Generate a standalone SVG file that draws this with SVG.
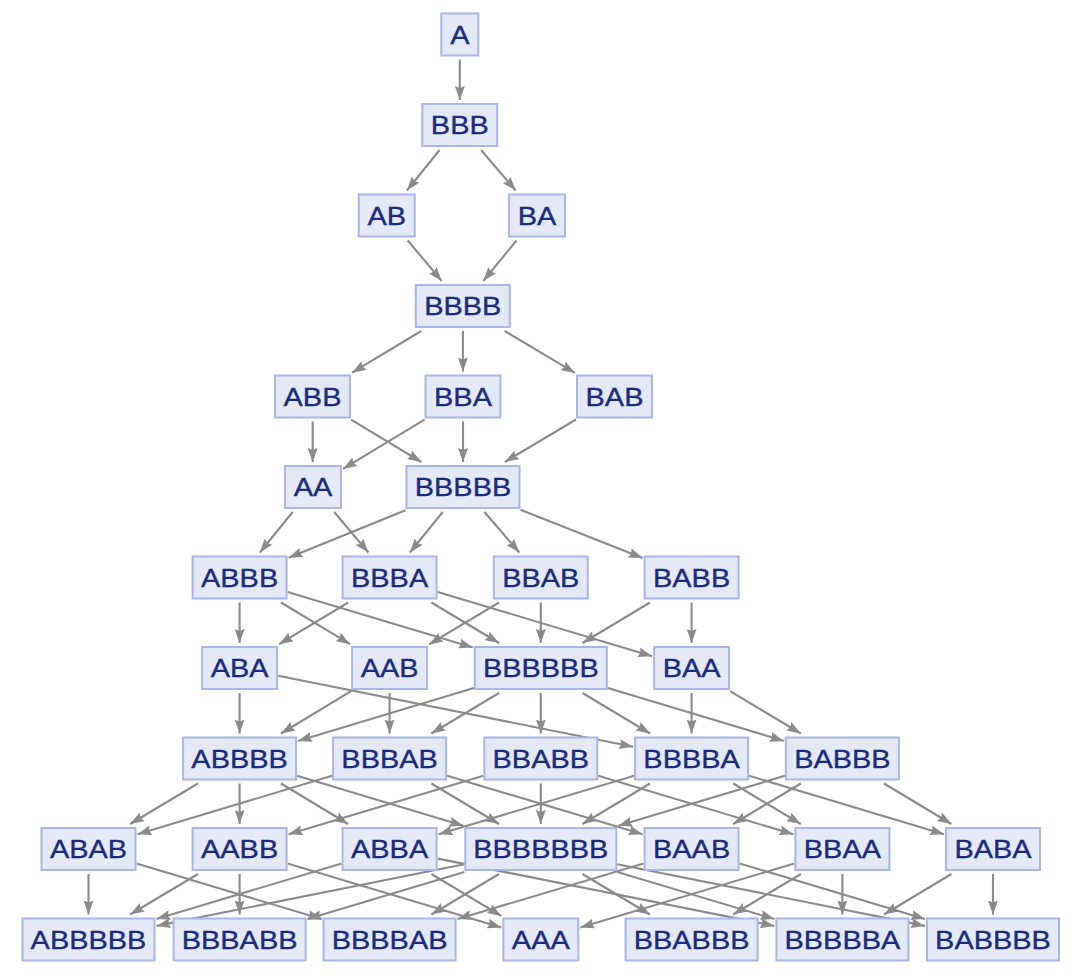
<svg xmlns="http://www.w3.org/2000/svg" width="1080" height="974" viewBox="0 0 1080 974">
<style>
.e{stroke:#8a8a8a;stroke-width:2.1;fill:none;marker-end:url(#ah)}
.n rect{fill:#e4e9f5;stroke:#a9b6e6;stroke-width:2}
.n text{font-family:"Liberation Sans",Arial,sans-serif;font-size:26px;fill:#1b2c7c;stroke:#1b2c7c;stroke-width:0.35;text-anchor:middle}
</style>
<defs>
<marker id="ah" markerUnits="userSpaceOnUse" markerWidth="14" markerHeight="10" refX="14" refY="5" orient="auto">
<path d="M0,0 L14,5 L0,10 L2,5 z" fill="#8a8a8a"/>
</marker>
</defs>
<rect width="1080" height="974" fill="#ffffff"/>
<g id="connectors">
<line class="e" x1="459.8" y1="59.5" x2="459.8" y2="100"/>
<line class="e" x1="439.6" y1="150" x2="406.9" y2="190.5"/>
<line class="e" x1="481.1" y1="150" x2="515.7" y2="190.5"/>
<line class="e" x1="407.7" y1="240.5" x2="441.8" y2="281"/>
<line class="e" x1="516.5" y1="240.5" x2="483.3" y2="281"/>
<line class="e" x1="421.3" y1="331" x2="352" y2="372.7"/>
<line class="e" x1="462.9" y1="331" x2="462.9" y2="371.5"/>
<line class="e" x1="504.7" y1="331" x2="575" y2="372.9"/>
<line class="e" x1="312.7" y1="421.5" x2="312.7" y2="462"/>
<line class="e" x1="351" y1="419.7" x2="421.4" y2="462"/>
<line class="e" x1="424.5" y1="419.7" x2="343" y2="468.9"/>
<line class="e" x1="463" y1="421.5" x2="463" y2="462"/>
<line class="e" x1="576" y1="419.5" x2="504.8" y2="462"/>
<line class="e" x1="292.7" y1="512" x2="259.8" y2="552.5"/>
<line class="e" x1="334.2" y1="512" x2="368.4" y2="552.5"/>
<line class="e" x1="405.5" y1="510.3" x2="288.6" y2="557.7"/>
<line class="e" x1="442.7" y1="512" x2="409.9" y2="552.5"/>
<line class="e" x1="484.5" y1="512" x2="519.3" y2="552.5"/>
<line class="e" x1="520.5" y1="509.8" x2="642.6" y2="558.1"/>
<line class="e" x1="239.6" y1="602.5" x2="239.6" y2="643"/>
<line class="e" x1="281" y1="602.5" x2="350.1" y2="644.2"/>
<line class="e" x1="287.6" y1="591.9" x2="472.8" y2="647.6"/>
<line class="e" x1="348.2" y1="602.5" x2="279.1" y2="644.2"/>
<line class="e" x1="431.4" y1="602.5" x2="499" y2="643"/>
<line class="e" x1="437.6" y1="591.9" x2="652.1" y2="656.2"/>
<line class="e" x1="499" y1="602.5" x2="429.1" y2="644.4"/>
<line class="e" x1="540.8" y1="602.5" x2="540.8" y2="643"/>
<line class="e" x1="650" y1="602.5" x2="582.5" y2="643"/>
<line class="e" x1="691.6" y1="602.5" x2="691.6" y2="643"/>
<line class="e" x1="239.6" y1="693" x2="239.6" y2="733.5"/>
<line class="e" x1="278.1" y1="675.7" x2="633.1" y2="746.8"/>
<line class="e" x1="351.1" y1="691.2" x2="281" y2="733.5"/>
<line class="e" x1="389.6" y1="693" x2="389.6" y2="733.5"/>
<line class="e" x1="473.8" y1="688.1" x2="298.1" y2="740.9"/>
<line class="e" x1="499" y1="693" x2="431.4" y2="733.5"/>
<line class="e" x1="540.8" y1="693" x2="540.8" y2="733.5"/>
<line class="e" x1="582.5" y1="693" x2="650" y2="733.5"/>
<line class="e" x1="607.8" y1="688.1" x2="783.9" y2="740.9"/>
<line class="e" x1="691.6" y1="693" x2="691.6" y2="733.5"/>
<line class="e" x1="730.1" y1="691.1" x2="800.8" y2="733.5"/>
<line class="e" x1="197.9" y1="783.5" x2="130.2" y2="824"/>
<line class="e" x1="239.6" y1="783.5" x2="239.6" y2="824"/>
<line class="e" x1="281" y1="783.5" x2="348.2" y2="824"/>
<line class="e" x1="297.1" y1="775.8" x2="463.3" y2="825.7"/>
<line class="e" x1="332.1" y1="775.8" x2="137.5" y2="834.3"/>
<line class="e" x1="447.1" y1="775.7" x2="642.6" y2="834.3"/>
<line class="e" x1="431.4" y1="783.5" x2="499" y2="824"/>
<line class="e" x1="483.3" y1="775.8" x2="288.6" y2="834.3"/>
<line class="e" x1="598.3" y1="775.8" x2="793.4" y2="834.3"/>
<line class="e" x1="540.8" y1="783.5" x2="540.8" y2="824"/>
<line class="e" x1="634.1" y1="775.7" x2="438.6" y2="834.3"/>
<line class="e" x1="650" y1="783.5" x2="582.5" y2="824"/>
<line class="e" x1="733.2" y1="783.5" x2="800.8" y2="824"/>
<line class="e" x1="749.1" y1="775.8" x2="944" y2="834.3"/>
<line class="e" x1="800.8" y1="783.5" x2="733.2" y2="824"/>
<line class="e" x1="784.9" y1="775.8" x2="618.3" y2="825.7"/>
<line class="e" x1="884" y1="783.5" x2="951.4" y2="824"/>
<line class="e" x1="88.5" y1="874" x2="88.5" y2="914.5"/>
<line class="e" x1="136.5" y1="863.4" x2="321.6" y2="919.1"/>
<line class="e" x1="197.9" y1="874" x2="130.2" y2="914.5"/>
<line class="e" x1="239.6" y1="874" x2="239.6" y2="914.5"/>
<line class="e" x1="287.6" y1="863.4" x2="501.3" y2="927.6"/>
<line class="e" x1="341.6" y1="863.4" x2="156.5" y2="919.1"/>
<line class="e" x1="431.4" y1="874" x2="501.3" y2="915.9"/>
<line class="e" x1="437.6" y1="858.6" x2="774.4" y2="925.9"/>
<line class="e" x1="464.3" y1="864.3" x2="156.5" y2="925.9"/>
<line class="e" x1="464.3" y1="872" x2="307.6" y2="919.1"/>
<line class="e" x1="499" y1="874" x2="431.4" y2="914.5"/>
<line class="e" x1="582.5" y1="874" x2="649.9" y2="914.5"/>
<line class="e" x1="617.3" y1="872" x2="774.4" y2="919.1"/>
<line class="e" x1="617.3" y1="864.3" x2="925" y2="925.9"/>
<line class="e" x1="643.6" y1="863.4" x2="457.6" y2="919.1"/>
<line class="e" x1="739.6" y1="863.4" x2="925" y2="919.1"/>
<line class="e" x1="794.4" y1="863.4" x2="580.3" y2="927.6"/>
<line class="e" x1="800.8" y1="874" x2="733.2" y2="914.5"/>
<line class="e" x1="842.4" y1="874" x2="842.4" y2="914.5"/>
<line class="e" x1="951.4" y1="874" x2="884" y2="914.5"/>
<line class="e" x1="993" y1="874" x2="993" y2="914.5"/>
</g>
<g id="n-A" class="n"><rect x="441.3" y="13.5" width="37" height="42"/><text x="459.8" y="43.8" textLength="19.3" lengthAdjust="spacingAndGlyphs">A</text></g>
<g id="n-BBB" class="n"><rect x="422.3" y="104" width="75" height="42"/><text x="459.8" y="134.3" textLength="57.9" lengthAdjust="spacingAndGlyphs">BBB</text></g>
<g id="n-AB" class="n"><rect x="358.7" y="194.5" width="56" height="42"/><text x="386.7" y="224.8" textLength="38.6" lengthAdjust="spacingAndGlyphs">AB</text></g>
<g id="n-BA" class="n"><rect x="509" y="194.5" width="56" height="42"/><text x="537" y="224.8" textLength="38.6" lengthAdjust="spacingAndGlyphs">BA</text></g>
<g id="n-BBBB" class="n"><rect x="415.8" y="285" width="94" height="42"/><text x="462.8" y="315.3" textLength="77.2" lengthAdjust="spacingAndGlyphs">BBBB</text></g>
<g id="n-ABB" class="n"><rect x="275" y="375.5" width="75" height="42"/><text x="312.5" y="405.8" textLength="57.9" lengthAdjust="spacingAndGlyphs">ABB</text></g>
<g id="n-BBA" class="n"><rect x="425.5" y="375.5" width="75" height="42"/><text x="463" y="405.8" textLength="57.9" lengthAdjust="spacingAndGlyphs">BBA</text></g>
<g id="n-BAB" class="n"><rect x="577" y="375.5" width="75" height="42"/><text x="614.5" y="405.8" textLength="57.9" lengthAdjust="spacingAndGlyphs">BAB</text></g>
<g id="n-AA" class="n"><rect x="285" y="466" width="56" height="42"/><text x="313" y="496.3" textLength="38.6" lengthAdjust="spacingAndGlyphs">AA</text></g>
<g id="n-BBBBB" class="n"><rect x="406.5" y="466" width="113" height="42"/><text x="463" y="496.3" textLength="96.5" lengthAdjust="spacingAndGlyphs">BBBBB</text></g>
<g id="n-ABBB" class="n"><rect x="192.6" y="556.5" width="94" height="42"/><text x="239.6" y="586.8" textLength="77.2" lengthAdjust="spacingAndGlyphs">ABBB</text></g>
<g id="n-BBBA" class="n"><rect x="342.6" y="556.5" width="94" height="42"/><text x="389.6" y="586.8" textLength="77.2" lengthAdjust="spacingAndGlyphs">BBBA</text></g>
<g id="n-BBAB" class="n"><rect x="493.8" y="556.5" width="94" height="42"/><text x="540.8" y="586.8" textLength="77.2" lengthAdjust="spacingAndGlyphs">BBAB</text></g>
<g id="n-BABB" class="n"><rect x="644.6" y="556.5" width="94" height="42"/><text x="691.6" y="586.8" textLength="77.2" lengthAdjust="spacingAndGlyphs">BABB</text></g>
<g id="n-ABA" class="n"><rect x="202.1" y="647" width="75" height="42"/><text x="239.6" y="677.3" textLength="57.9" lengthAdjust="spacingAndGlyphs">ABA</text></g>
<g id="n-AAB" class="n"><rect x="352.1" y="647" width="75" height="42"/><text x="389.6" y="677.3" textLength="57.9" lengthAdjust="spacingAndGlyphs">AAB</text></g>
<g id="n-BBBBBB" class="n"><rect x="474.8" y="647" width="132" height="42"/><text x="540.8" y="677.3" textLength="115.8" lengthAdjust="spacingAndGlyphs">BBBBBB</text></g>
<g id="n-BAA" class="n"><rect x="654.1" y="647" width="75" height="42"/><text x="691.6" y="677.3" textLength="57.9" lengthAdjust="spacingAndGlyphs">BAA</text></g>
<g id="n-ABBBB" class="n"><rect x="183.1" y="737.5" width="113" height="42"/><text x="239.6" y="767.8" textLength="96.5" lengthAdjust="spacingAndGlyphs">ABBBB</text></g>
<g id="n-BBBAB" class="n"><rect x="333.1" y="737.5" width="113" height="42"/><text x="389.6" y="767.8" textLength="96.5" lengthAdjust="spacingAndGlyphs">BBBAB</text></g>
<g id="n-BBABB" class="n"><rect x="484.3" y="737.5" width="113" height="42"/><text x="540.8" y="767.8" textLength="96.5" lengthAdjust="spacingAndGlyphs">BBABB</text></g>
<g id="n-BBBBA" class="n"><rect x="635.1" y="737.5" width="113" height="42"/><text x="691.6" y="767.8" textLength="96.5" lengthAdjust="spacingAndGlyphs">BBBBA</text></g>
<g id="n-BABBB" class="n"><rect x="785.9" y="737.5" width="113" height="42"/><text x="842.4" y="767.8" textLength="96.5" lengthAdjust="spacingAndGlyphs">BABBB</text></g>
<g id="n-ABAB" class="n"><rect x="41.5" y="828" width="94" height="42"/><text x="88.5" y="858.3" textLength="77.2" lengthAdjust="spacingAndGlyphs">ABAB</text></g>
<g id="n-AABB" class="n"><rect x="192.6" y="828" width="94" height="42"/><text x="239.6" y="858.3" textLength="77.2" lengthAdjust="spacingAndGlyphs">AABB</text></g>
<g id="n-ABBA" class="n"><rect x="342.6" y="828" width="94" height="42"/><text x="389.6" y="858.3" textLength="77.2" lengthAdjust="spacingAndGlyphs">ABBA</text></g>
<g id="n-BBBBBBB" class="n"><rect x="465.3" y="828" width="151" height="42"/><text x="540.8" y="858.3" textLength="135.1" lengthAdjust="spacingAndGlyphs">BBBBBBB</text></g>
<g id="n-BAAB" class="n"><rect x="644.6" y="828" width="94" height="42"/><text x="691.6" y="858.3" textLength="77.2" lengthAdjust="spacingAndGlyphs">BAAB</text></g>
<g id="n-BBAA" class="n"><rect x="795.4" y="828" width="94" height="42"/><text x="842.4" y="858.3" textLength="77.2" lengthAdjust="spacingAndGlyphs">BBAA</text></g>
<g id="n-BABA" class="n"><rect x="946" y="828" width="94" height="42"/><text x="993" y="858.3" textLength="77.2" lengthAdjust="spacingAndGlyphs">BABA</text></g>
<g id="n-ABBBBB" class="n"><rect x="22.5" y="918.5" width="132" height="42"/><text x="88.5" y="948.8" textLength="115.8" lengthAdjust="spacingAndGlyphs">ABBBBB</text></g>
<g id="n-BBBABB" class="n"><rect x="173.6" y="918.5" width="132" height="42"/><text x="239.6" y="948.8" textLength="115.8" lengthAdjust="spacingAndGlyphs">BBBABB</text></g>
<g id="n-BBBBAB" class="n"><rect x="323.6" y="918.5" width="132" height="42"/><text x="389.6" y="948.8" textLength="115.8" lengthAdjust="spacingAndGlyphs">BBBBAB</text></g>
<g id="n-AAA" class="n"><rect x="503.3" y="918.5" width="75" height="42"/><text x="540.8" y="948.8" textLength="57.9" lengthAdjust="spacingAndGlyphs">AAA</text></g>
<g id="n-BBABBB" class="n"><rect x="625.6" y="918.5" width="132" height="42"/><text x="691.6" y="948.8" textLength="115.8" lengthAdjust="spacingAndGlyphs">BBABBB</text></g>
<g id="n-BBBBBA" class="n"><rect x="776.4" y="918.5" width="132" height="42"/><text x="842.4" y="948.8" textLength="115.8" lengthAdjust="spacingAndGlyphs">BBBBBA</text></g>
<g id="n-BABBBB" class="n"><rect x="927" y="918.5" width="132" height="42"/><text x="993" y="948.8" textLength="115.8" lengthAdjust="spacingAndGlyphs">BABBBB</text></g>
</svg>
